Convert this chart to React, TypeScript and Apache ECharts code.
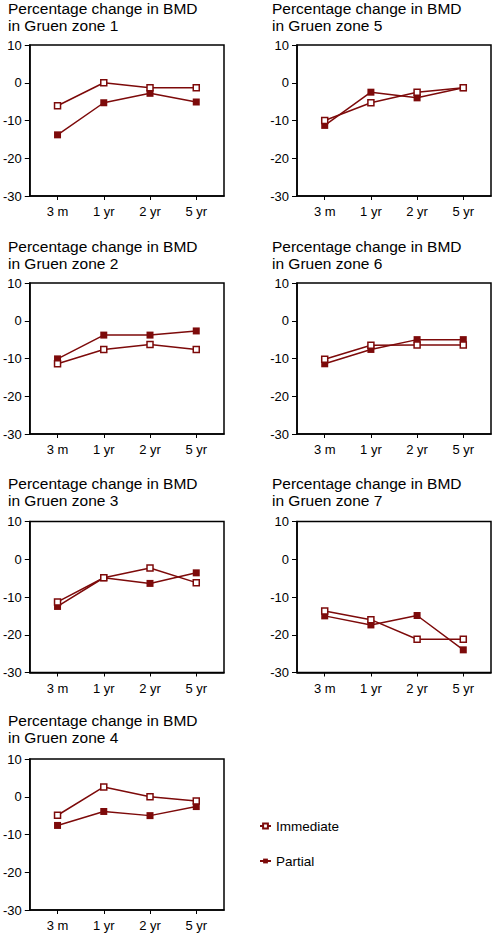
import React, { useEffect, useRef } from "react";
import * as echarts from "echarts";

const categories = ["3 m", "1 yr", "2 yr", "5 yr"];
const yTicks = [10, 0, -10, -20, -30];

const zone1Immediate = [-6.1, 0, -1.3, -1.3];
const zone1Partial = [-13.8, -5.3, -2.8, -5.1];
const zone2Immediate = [-11.4, -7.6, -6.3, -7.6];
const zone2Partial = [-10.1, -3.8, -3.8, -2.7];
const zone3Immediate = [-11.3, -4.9, -2.3, -6.2];
const zone3Partial = [-12.5, -4.9, -6.4, -3.6];
const zone4Immediate = [-4.9, 2.6, 0, -1.1];
const zone4Partial = [-7.6, -3.9, -5.0, -2.6];
const zone5Immediate = [-10.0, -5.3, -2.5, -1.3];
const zone5Partial = [-11.3, -2.5, -4.0, -1.3];
const zone6Immediate = [-10.2, -6.5, -6.4, -6.4];
const zone6Partial = [-11.4, -7.6, -5.0, -5.0];
const zone7Immediate = [-13.7, -16.0, -21.2, -21.2];
const zone7Partial = [-15.0, -17.4, -14.9, -24.0];

const zones = [
  { name: "1", immediate: zone1Immediate, partial: zone1Partial, col: 0, row: 0 },
  { name: "5", immediate: zone5Immediate, partial: zone5Partial, col: 1, row: 0 },
  { name: "2", immediate: zone2Immediate, partial: zone2Partial, col: 0, row: 1 },
  { name: "6", immediate: zone6Immediate, partial: zone6Partial, col: 1, row: 1 },
  { name: "3", immediate: zone3Immediate, partial: zone3Partial, col: 0, row: 2 },
  { name: "7", immediate: zone7Immediate, partial: zone7Partial, col: 1, row: 2 },
  { name: "4", immediate: zone4Immediate, partial: zone4Partial, col: 0, row: 3 },
];

const COLOR = "#7d0a0a";
const FONT = "'Liberation Sans', Arial, Helvetica, sans-serif";

export default function App() {
  const ref = useRef<HTMLDivElement>(null);
  useEffect(() => {
    if (!ref.current) return;
    const chart = echarts.init(ref.current, undefined, { renderer: "svg" });
    const rowTops = [45, 283, 521.5, 759];
    const titleTops = [0, 237.5, 474.5, 711.5];
    const colLefts = [29, 297];
    const colWidths = [195, 194];
    const titleLefts = [8, 272];
    const grids: any[] = [];
    const xAxes: any[] = [];
    const yAxes: any[] = [];
    const series: any[] = [];
    const titles: any[] = [];
    zones.forEach((z, i) => {
      grids.push({
        left: colLefts[z.col],
        top: rowTops[z.row],
        width: colWidths[z.col],
        height: 151,
        show: true,
        borderColor: "#000",
        borderWidth: 1.5,
        backgroundColor: "#fff",
      });
      titles.push({
        text: "Percentage change in BMD\nin Gruen zone " + z.name,
        left: titleLefts[z.col],
        top: titleTops[z.row],
        padding: 0,
        textStyle: {
          fontFamily: FONT,
          fontSize: 15.5,
          fontWeight: "normal",
          color: "#000",
          lineHeight: 17,
        },
      });
      xAxes.push({
        type: "value",
        gridIndex: i,
        min: -0.6,
        max: 3.6,
        splitLine: { show: false },
        axisLine: { show: true, onZero: false, lineStyle: { color: "#000", width: 1.5 } },
        axisTick: {
          show: true,
          length: 4,
          customValues: [0, 1, 2, 3],
          lineStyle: { color: "#000", width: 1 },
        },
        axisLabel: {
          customValues: [0, 1, 2, 3],
          formatter: (v: number) => categories[Math.round(v)] ?? "",
          fontFamily: FONT,
          fontSize: 13,
          color: "#000",
          margin: 9,
        },
      });
      yAxes.push({
        type: "value",
        gridIndex: i,
        min: -30,
        max: 10,
        interval: 10,
        splitLine: { show: false },
        axisLine: { show: true, onZero: false, lineStyle: { color: "#000", width: 1.5 } },
        axisTick: { show: true, length: 5, lineStyle: { color: "#000", width: 1 } },
        axisLabel: {
          fontFamily: FONT,
          fontSize: 13,
          color: "#000",
          margin: 8,
          formatter: (v: number) => (yTicks.includes(v) ? String(v) : ""),
        },
      });
      series.push({
        name: "Immediate",
        type: "line",
        xAxisIndex: i,
        yAxisIndex: i,
        data: z.immediate.map((v, k) => [k, v]),
        symbol: "rect",
        symbolSize: 6,
        lineStyle: { color: COLOR, width: 1.5 },
        itemStyle: { color: "#fff", borderColor: COLOR, borderWidth: 1.5 },
        z: 3,
      });
      series.push({
        name: "Partial",
        type: "line",
        xAxisIndex: i,
        yAxisIndex: i,
        data: z.partial.map((v, k) => [k, v]),
        symbol: "rect",
        symbolSize: 7,
        lineStyle: { color: COLOR, width: 1.5 },
        itemStyle: { color: COLOR, borderColor: COLOR, borderWidth: 0 },
        z: 2,
      });
    });
    chart.setOption({
      animation: false,
      backgroundColor: "#fff",
      title: titles,
      grid: grids,
      xAxis: xAxes,
      yAxis: yAxes,
      series,
      legend: {
        data: ["Immediate", "Partial"],
        orient: "vertical",
        left: 254,
        top: 814,
        itemGap: 21,
        itemWidth: 11,
        itemHeight: 6,
        textStyle: { fontFamily: FONT, fontSize: 13.5, color: "#000" },
        selectedMode: false,
      },
    });
    return () => chart.dispose();
  }, []);
  return (
    <div
      ref={ref}
      style={{ position: "fixed", left: 0, top: 0, width: 494, height: 934, background: "#fff" }}
    />
  );
}
